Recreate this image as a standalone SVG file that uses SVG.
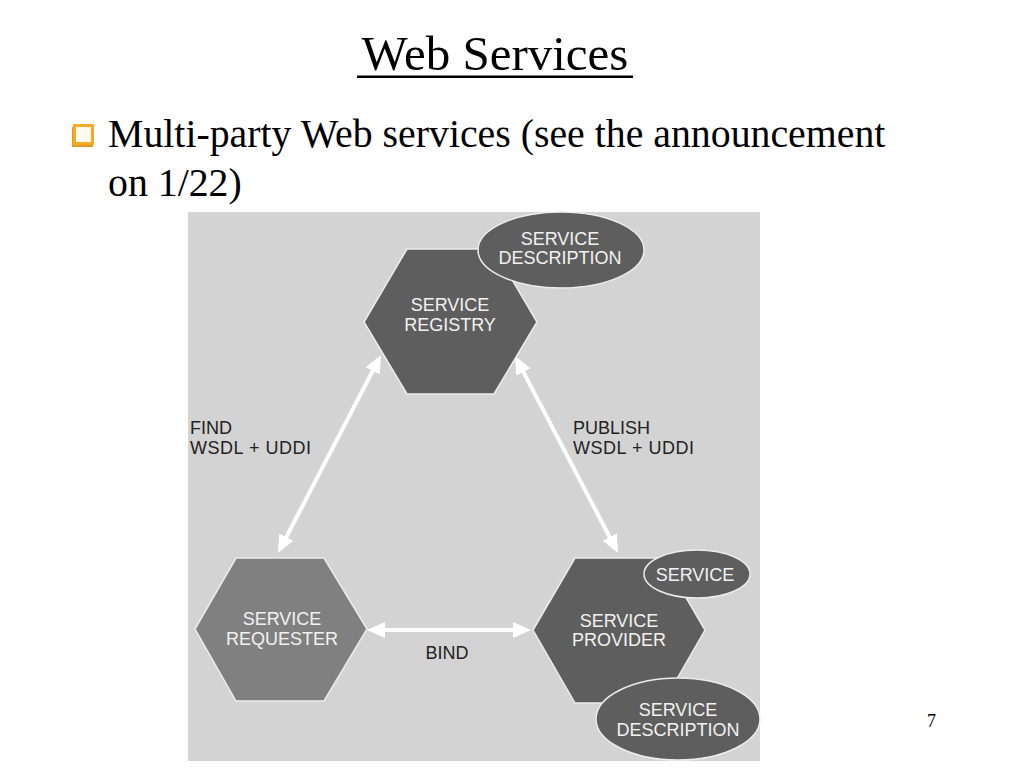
<svg xmlns="http://www.w3.org/2000/svg" width="1024" height="768" viewBox="0 0 1024 768">
<defs>
<style>
.title{font-family:"Liberation Serif","Times New Roman",serif;font-size:49px;fill:#000}
.bullet{font-family:"Liberation Serif","Times New Roman",serif;font-size:39.8px;fill:#000}
.pg{font-family:"Liberation Serif","Times New Roman",serif;font-size:18px;fill:#000}
.hexd{fill:#5e5e5e;stroke:#ececec;stroke-width:1.5}
.hexl{fill:#808080;stroke:#ececec;stroke-width:1.5}
.ell{fill:#5e5e5e;stroke:#ececec;stroke-width:1.5}
.lbl{font-family:"Liberation Sans",Arial,sans-serif;font-size:18px;fill:#f2f2f2;text-anchor:middle}
.dk{font-family:"Liberation Sans",Arial,sans-serif;font-size:18px;fill:#222}
.arr{stroke:#ffffff;stroke-width:4;fill:none;marker-start:url(#ah);marker-end:url(#ah)}
</style>
<marker id="ah" markerUnits="userSpaceOnUse" markerWidth="18" markerHeight="16" refX="13" refY="8" orient="auto-start-reverse">
<path d="M0,0 L18,8 L0,16 z" fill="#ffffff"/>
</marker>
</defs>
<rect width="1024" height="768" fill="#ffffff"/>
<text class="title" x="495" y="70" text-anchor="middle">Web Services</text>
<rect x="357" y="75.5" width="276" height="2.5" fill="#000"/>
<g id="bullet">
<rect x="72" y="127" width="21" height="20" fill="#e89820"/>
<rect x="74.5" y="125.5" width="18" height="18" fill="#fffaf0" stroke="#f7a928" stroke-width="3"/>
</g>
<text class="bullet" x="108" y="147">Multi-party Web services (see the announcement</text>
<text class="bullet" x="108" y="196">on 1/22)</text>
<text class="pg" x="927" y="727">7</text>
<rect x="188" y="212" width="572" height="549" fill="#d3d3d3"/>
<g id="connectors">
<line class="arr" x1="280.3" y1="548.6" x2="378.7" y2="359.4"/>
<line class="arr" x1="517.3" y1="360.4" x2="615.7" y2="548.6"/>
<line class="arr" x1="372" y1="630" x2="526" y2="630"/>
<text class="dk" x="190" y="434">FIND</text>
<text class="dk" x="190" y="454" textLength="121" lengthAdjust="spacing">WSDL + UDDI</text>
<text class="dk" x="573" y="434">PUBLISH</text>
<text class="dk" x="573" y="454" textLength="121" lengthAdjust="spacing">WSDL + UDDI</text>
<text class="dk" x="447" y="659" text-anchor="middle">BIND</text>
</g>
<g id="registry">
<polygon class="hexd" points="364,322 407,249 494,249 537,322 494,394 407,394"/>
<text class="lbl" x="450" y="311">SERVICE</text>
<text class="lbl" x="450" y="331">REGISTRY</text>
</g>
<g id="registry-description">
<ellipse class="ell" cx="561" cy="250" rx="83" ry="38"/>
<text class="lbl" x="560" y="245">SERVICE</text>
<text class="lbl" x="560" y="264">DESCRIPTION</text>
</g>
<g id="requester">
<polygon class="hexl" points="195,629 236,558 324,558 367,629 324,701 236,701"/>
<text class="lbl" x="282" y="625">SERVICE</text>
<text class="lbl" x="282" y="645">REQUESTER</text>
</g>
<g id="provider">
<polygon class="hexd" points="533,630 575,558 663,558 705,630 663,703 575,703"/>
<text class="lbl" x="619" y="627">SERVICE</text>
<text class="lbl" x="619" y="646">PROVIDER</text>
</g>
<g id="service">
<ellipse class="ell" cx="697" cy="574" rx="53" ry="24"/>
<text class="lbl" x="695" y="581">SERVICE</text>
</g>
<g id="provider-description">
<ellipse class="ell" cx="678" cy="719" rx="82" ry="41"/>
<text class="lbl" x="678" y="716">SERVICE</text>
<text class="lbl" x="678" y="736">DESCRIPTION</text>
</g>
</svg>
